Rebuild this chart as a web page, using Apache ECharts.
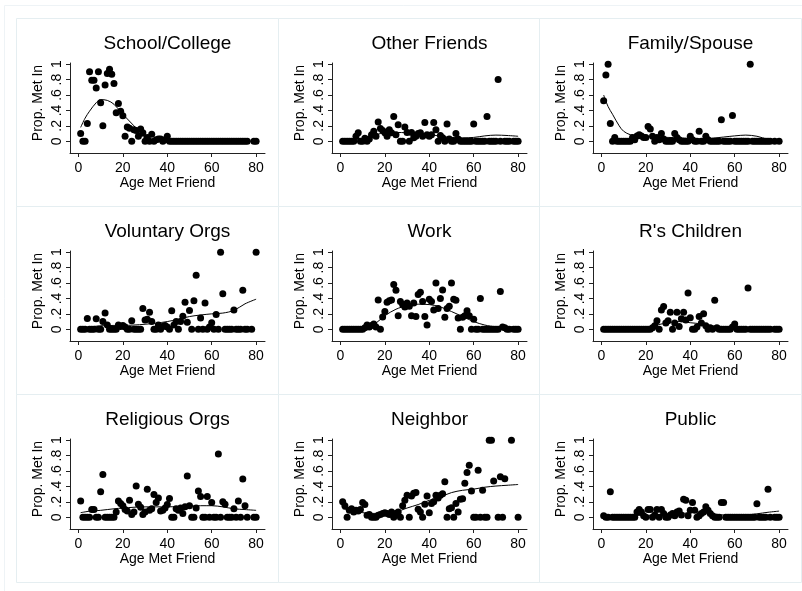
<!DOCTYPE html>
<html>
<head>
<meta charset="utf-8">
<script src="https://cdn.jsdelivr.net/npm/echarts@6/dist/echarts.min.js"></script>
<style>
  html, body { margin: 0; padding: 0; background: #fff; }
  #chart { width: 802px; height: 591px; }
</style>
</head>
<body>
<div id="chart"></div>
<script>
// Age at which the friend was met (x of every dot)
const AGES = [
  1, 2, 3, 4, 5, 6, 7, 8, 9, 10,
  11, 12, 13, 14, 15, 16, 17, 18, 19, 20,
  21, 22, 23, 24, 25, 26, 27, 28, 29, 30,
  31, 32, 33, 34, 35, 36, 37, 38, 39, 40,
  41, 42, 43, 44, 45, 46, 47, 48, 49, 50,
  51, 52, 53, 54, 55, 56, 57, 58, 59, 60,
  61, 62, 63, 64, 65, 66, 67, 68, 69, 70,
  71, 72, 73, 74, 75, 76, 77, 78, 79, 80
];

const PANEL_TITLES = [
  'School/College', 'Other Friends', 'Family/Spouse',
  'Voluntary Orgs', 'Work', "R's Children",
  'Religious Orgs', 'Neighbor', 'Public'
];

// Proportion of friends met in each context, one value per age (null = no friends met at that age)
const SCHOOL = [
  0.1, 0, 0, 0.23, 0.9, 0.79, 0.79, 0.69, 0.9, 0.5,
  0.2, 0.73, 0.88, 0.935, 0.87, 0.75, 0.37, 0.49, 0.39, 0.33,
  0.065, 0.185, 0.17, 0, 0.15, 0.14, 0.065, 0.16, 0.11, 0,
  0.05, 0, 0.09, 0, 0.02, 0.03, 0.03, 0, 0.02, 0.065,
  0, 0, 0, 0, 0, 0, 0, 0, 0, 0,
  0, 0, 0, 0, 0, 0, 0, 0, 0, 0,
  0, 0, 0, 0, 0, 0, 0, 0, 0, 0,
  0, 0, 0, 0, 0, 0, null, null, 0, 0
];
const OTHER = [
  0, 0, 0, 0, 0, 0, 0.065, 0.11, 0, 0,
  0.04, 0, 0.03, 0.085, 0.13, 0.065, 0.25, 0.165, 0.14, 0.11,
  0.065, 0.15, 0.11, 0.32, 0.085, 0.215, 0, 0, 0.185, 0.115,
  0, 0.115, 0.045, 0.065, 0.1, 0.11, 0.065, 0.245, 0.085, 0.065,
  0.085, 0.245, 0.15, 0, 0.075, 0.045, 0, 0.225, 0.03, 0,
  0, 0.1, 0.03, 0, 0, 0, 0, 0, 0, 0.225,
  0, 0, 0, 0, 0, 0.32, 0, 0, 0, 0,
  0.8, 0, null, 0, 0, 0, null, 0, 0, 0
];
const FAMILY = [
  0.525, 0.86, 1, 0.23, 0, 0.05, 0, 0, 0, 0,
  0, 0, 0, 0.05, 0.02, 0.07, 0.085, 0.07, 0.05, 0.05,
  0.19, 0.16, 0.065, 0, 0.05, 0.02, 0.1, 0.03, 0, 0,
  0, 0, 0.1, 0.05, 0.02, 0, 0, 0, 0, 0.065,
  0.02, 0, 0, 0.13, 0, 0, 0.065, 0.02, 0, 0,
  0, 0, 0, 0.28, 0, 0, 0, 0, 0.335, 0,
  0, 0, 0, 0, 0, 0, 1, 0, 0, 0,
  0, 0, 0, 0, 0, 0, null, 0, null, 0
];
const VOLUNTARY = [
  0, 0, 0, 0.14, 0, 0, 0, 0.135, 0, 0,
  0.1, 0.21, 0.055, 0, 0, 0, 0, 0.055, 0.035, 0.05,
  0.03, 0, 0, 0.11, 0, 0, 0, 0, 0.27, 0.12,
  0.13, 0.22, 0.1, 0, 0, 0.055, 0, 0.035, 0.05, 0.03,
  0, 0.24, 0.055, 0.1, 0, 0.1, 0.17, 0.35, 0.09, 0.245,
  0, 0.37, 0.7, 0, 0.145, 0, 0.34, 0, 0.03, 0.085,
  0, 0.19, 0, 1, 0.46, 0, 0, 0, 0, 0.25,
  0, 0, 0, 0.505, 0, 0, null, 0, null, 1
];
const WORK = [
  0, 0, 0, 0, 0, 0, 0, 0, 0, 0,
  0.02, 0.055, 0.03, 0.05, 0.07, 0.03, 0.38, 0, 0.16, 0.23,
  0.35, 0.37, 0.38, 0.58, 0.505, 0.175, 0.36, 0.32, 0.29, 0.34,
  0.3, 0.175, 0.34, 0.165, 0.45, 0.48, 0.36, 0.165, 0.055, 0.39,
  0.36, 0.25, 0.6, 0.27, 0.4, 0.51, 0.155, 0.27, 0.3, 0.6,
  0.39, 0.375, 0.145, 0, 0.155, 0.175, 0.24, 0.175, 0, 0.13,
  0, 0, 0.4, 0, 0, 0, 0, 0, 0, 0,
  0, 0.49, 0.03, 0.02, 0, 0, null, 0, 0, 0
];
const CHILDREN = [
  0, 0, 0, 0, 0, 0, 0, 0, 0, 0,
  0, 0, 0, 0, 0, 0, 0, 0, 0, 0,
  0, 0, 0.02, 0.045, 0.11, 0, 0.25, 0.295, 0.08, 0.11,
  0.22, 0, 0.08, 0.22, 0.035, 0.135, 0.22, 0.12, 0.47, 0.15,
  0, 0, 0.03, 0.165, 0.08, 0.2, 0.045, 0, 0.02, 0,
  0.375, 0.02, 0, 0, 0, 0, 0, 0, 0.03, 0.07,
  0, 0, 0, 0, 0, 0.535, 0, 0, 0, 0,
  0, 0, 0, 0, 0, 0, null, 0, 0, 0
];
const RELIGIOUS = [
  0.21, 0, 0, 0, 0, 0.1, 0.1, 0, 0, 0.33,
  0.555, 0, 0, 0, 0, 0, 0.07, 0.21, 0.18, 0.15,
  0.1, 0.08, 0.22, 0.035, 0.07, 0.405, 0.17, 0.13, 0.035, 0.07,
  0.365, 0.09, 0.11, 0.295, 0.19, 0.25, 0.08, 0.09, 0.12, 0.165,
  0.245, 0, 0, 0.11, 0.09, 0.12, 0.05, 0.135, 0.535, 0.15,
  0, 0, 0.12, 0.34, 0.27, 0, 0, 0.27, 0, 0.19,
  0, 0, 0.82, 0, 0.2, 0.17, 0, 0, 0, 0.11,
  0, 0.21, 0, 0.495, 0.15, 0, null, null, 0, 0
];
const NEIGHBOR = [
  0.2, 0.15, 0, 0.09, 0.11, 0.07, 0.09, 0.08, 0.1, 0.19,
  0.165, 0.025, 0.035, 0, 0, 0, 0.025, 0.035, 0.05, 0.06,
  0.05, 0.035, 0.07, 0, 0.05, 0.07, 0, 0.15, 0.22, 0.285,
  0, 0.275, 0.31, 0.32, 0.105, 0.07, 0, 0.17, 0.275, 0.06,
  0.18, 0.2, 0.285, 0.25, 0.285, 0.305, 0.46, 0, 0.11, 0.125,
  0, 0.18, 0.07, 0.235, 0.24, 0.44, 0.58, 0.675, 0.34, 0,
  0, 0.61, 0, 0.35, 0, 0, 1, 1, 0.47, null,
  0, 0.525, 0, 0.5, null, null, 1, null, null, 0
];
const PUBLIC = [
  0.02, 0, 0, 0.33, 0, 0, 0, 0, 0, 0,
  0, 0, 0, 0, 0, 0.07, 0.1, 0.07, 0.02, 0,
  0.1, 0.1, 0, 0.03, 0.1, 0, 0.1, 0.05, 0, 0,
  0.03, 0.05, 0.02, 0.07, 0.08, 0.03, 0.235, 0.22, 0.02, 0.09,
  0.19, 0.09, 0, 0.02, 0.05, 0.07, 0.135, 0.09, 0.05, 0.02,
  0, 0, 0, 0.19, 0.19, 0, 0, 0, 0, 0,
  0, 0, 0, 0, 0, 0, 0, 0, 0, 0.175,
  0, 0, 0, 0, 0.365, 0, null, 0, 0, 0
];

// Smoothed (lowess) fit, sampled at these ages
const FIT_AGES = [1, 3, 5, 8, 10, 13, 16, 20, 25, 30, 35, 40, 45, 50, 55, 60, 65, 70, 75, 80];
const SCHOOL_FIT    = [0.18, 0.3, 0.39, 0.5, 0.54, 0.53, 0.48, 0.35, 0.2, 0.04, 0.005, 0.003, 0.002, 0.002, 0.002, 0.002, 0.002, 0.002, 0.002, 0.002];
const OTHER_FIT     = [0.005, 0.01, 0.02, 0.03, 0.04, 0.06, 0.085, 0.11, 0.115, 0.11, 0.105, 0.09, 0.065, 0.05, 0.045, 0.05, 0.07, 0.08, 0.075, 0.065];
const FAMILY_FIT    = [0.6, 0.45, 0.35, 0.2, 0.13, 0.085, 0.07, 0.06, 0.055, 0.05, 0.045, 0.035, 0.03, 0.04, 0.055, 0.07, 0.08, 0.065, 0.025, 0.005];
const VOLUNTARY_FIT = [0.01, 0.02, 0.03, 0.04, 0.045, 0.048, 0.05, 0.05, 0.055, 0.065, 0.08, 0.1, 0.13, 0.165, 0.185, 0.2, 0.21, 0.245, 0.33, 0.39];
const WORK_FIT      = [0, 0, 0, 0.002, 0.005, 0.03, 0.08, 0.175, 0.26, 0.305, 0.325, 0.32, 0.29, 0.23, 0.165, 0.1, 0.055, 0.035, 0.035, 0.025];
const CHILDREN_FIT  = [0.002, 0.002, 0.002, 0.002, 0.002, 0.002, 0.003, 0.01, 0.055, 0.085, 0.1, 0.085, 0.07, 0.045, 0.035, 0.02, 0.015, 0.01, 0.007, 0.005];
const RELIGIOUS_FIT = [0.06, 0.07, 0.08, 0.085, 0.09, 0.1, 0.11, 0.12, 0.13, 0.135, 0.135, 0.135, 0.14, 0.145, 0.15, 0.15, 0.135, 0.11, 0.1, 0.09];
const NEIGHBOR_FIT  = [0.11, 0.095, 0.08, 0.065, 0.06, 0.05, 0.05, 0.05, 0.07, 0.12, 0.165, 0.22, 0.265, 0.32, 0.35, 0.365, 0.39, 0.405, 0.415, 0.425];
const PUBLIC_FIT    = [0.015, 0.015, 0.017, 0.02, 0.02, 0.022, 0.025, 0.025, 0.03, 0.035, 0.045, 0.06, 0.07, 0.045, 0.03, 0.025, 0.03, 0.045, 0.065, 0.08];

const X_TICKS = [0, 20, 40, 60, 80];
const Y_TICKS = [0, 0.2, 0.4, 0.6, 0.8, 1];
const Y_TICK_LABELS = ['0', '.2', '.4', '.6', '.8', '1'];

const PANEL_VALUES = [SCHOOL, OTHER, FAMILY, VOLUNTARY, WORK, CHILDREN, RELIGIOUS, NEIGHBOR, PUBLIC];
const PANEL_FITS = [SCHOOL_FIT, OTHER_FIT, FAMILY_FIT, VOLUNTARY_FIT, WORK_FIT, CHILDREN_FIT, RELIGIOUS_FIT, NEIGHBOR_FIT, PUBLIC_FIT];

// Panel layout (3 x 3)
const COL_LEFT = [16, 278, 539];
const ROW_TOP = [18, 206, 394];
const PANEL_W = 262, PANEL_H = 188;
const PLOT_DX = 54, PLOT_DY = 45, PLOT_W = 195, PLOT_H = 90;

const FONT = '"Liberation Sans", Arial, Helvetica, sans-serif';
const INK = '#000';
const AXIS_INK = '#222';
const FRAME = '#e5eef1';

const grids = [], xAxes = [], yAxes = [], series = [], titles = [], frames = [];

// Outer frame (left and top edges show)
frames.push({
  type: 'rect', silent: true, z: -10,
  shape: { x: 4.5, y: 5.5, width: 820, height: 620 },
  style: { fill: null, stroke: '#eef3f6', lineWidth: 1 }
});

PANEL_TITLES.forEach((title, i) => {
  const c = i % 3, r = Math.floor(i / 3);
  const px = COL_LEFT[c], py = ROW_TOP[r];
  const gx = px + PLOT_DX, gy = py + PLOT_DY;

  frames.push({
    type: 'rect', silent: true, z: -9,
    shape: { x: px + 0.5, y: py + 0.5, width: PANEL_W, height: PANEL_H },
    style: { fill: '#fff', stroke: FRAME, lineWidth: 1 }
  });

  grids.push({ left: gx, top: gy, width: PLOT_W, height: PLOT_H, outerBoundsMode: 'none', containLabel: false });

  titles.push({
    text: title,
    left: gx + PLOT_W / 2,
    top: py + 16,
    textAlign: 'center',
    padding: 0,
    textStyle: { fontFamily: FONT, fontSize: 19, fontWeight: 'normal', color: INK }
  });

  xAxes.push({
    type: 'value', gridIndex: i, min: -3.8, max: 84,
    axisLine: { show: true, onZero: false, lineStyle: { color: AXIS_INK, width: 1 } },
    axisTick: { show: true, customValues: X_TICKS, length: 4, lineStyle: { color: AXIS_INK, width: 1 } },
    axisLabel: { customValues: X_TICKS, fontFamily: FONT, fontSize: 14, color: INK, margin: 8 },
    splitLine: { show: false },
    name: 'Age Met Friend', nameLocation: 'middle', nameGap: 23,
    nameTextStyle: { fontFamily: FONT, fontSize: 14, color: INK }
  });

  yAxes.push({
    type: 'value', gridIndex: i, min: -0.152, max: 1.015,
    axisLine: { show: true, onZero: false, lineStyle: { color: AXIS_INK, width: 1 } },
    axisTick: { show: true, customValues: Y_TICKS, length: 4, lineStyle: { color: AXIS_INK, width: 1 } },
    axisLabel: {
      customValues: Y_TICKS, rotate: 90, fontFamily: FONT, fontSize: 14, color: INK, margin: 6,
      formatter: v => {
        const k = Y_TICKS.findIndex(t => Math.abs(t - v) < 1e-6);
        return k >= 0 ? Y_TICK_LABELS[k] : '';
      }
    },
    splitLine: { show: false },
    name: 'Prop. Met In', nameLocation: 'middle', nameGap: 25, nameRotate: 90,
    nameTextStyle: { fontFamily: FONT, fontSize: 14, color: INK, padding: [0, 0, 0, 10] }
  });

  const pts = [];
  PANEL_VALUES[i].forEach((v, k) => { if (v !== null) pts.push([AGES[k], v]); });

  series.push({
    type: 'scatter', xAxisIndex: i, yAxisIndex: i, data: pts,
    symbol: 'circle', symbolSize: 7,
    itemStyle: { color: INK, opacity: 1 },
    silent: true, z: 2
  });
  series.push({
    type: 'line', xAxisIndex: i, yAxisIndex: i,
    data: FIT_AGES.map((a, k) => [a, PANEL_FITS[i][k]]),
    showSymbol: false, smooth: 0.35,
    lineStyle: { color: INK, width: 1 },
    silent: true, z: 3
  });
});

const chart = echarts.init(document.getElementById('chart'), null, { renderer: 'canvas' });
chart.setOption({
  animation: false,
  backgroundColor: '#fff',
  title: titles,
  grid: grids,
  xAxis: xAxes,
  yAxis: yAxes,
  series: series,
  graphic: { elements: frames },
  tooltip: { show: false }
});
</script>
</body>
</html>
